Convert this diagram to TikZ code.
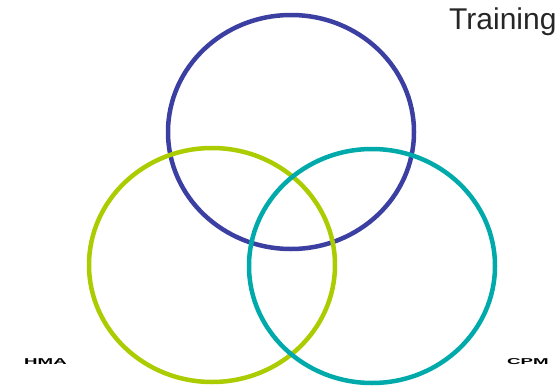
\documentclass[tikz,border=0pt]{standalone}
\usepackage{fontspec}
\setmainfont{Liberation Sans}
\usepackage{xcolor}
\usepackage{tikz}
\definecolor{setblue}{HTML}{3C3FA2}
\definecolor{setgreen}{HTML}{AACC00}
\definecolor{setteal}{HTML}{00AAAA}

\begin{document}
\begin{tikzpicture}[
  x=1pt, y=-1pt,
  ring/.style={line width=4.5pt},
  lbl/.style={font=\bfseries\fontsize{8.5}{10}\selectfont, inner sep=0pt, anchor=base west},
]
\useasboundingbox (0,0) rectangle (560,391);
\draw[ring, setblue] (291,132) ellipse (123 and 117);
\draw[ring, setgreen] (212,265) ellipse (123 and 117);
\draw[ring, setteal] (372,266) ellipse (123 and 117);
\node[font=\fontsize{30}{35}\selectfont, anchor=base west, inner sep=0pt, text=black!85] (training) at (449,29) {Training};
\node[lbl] (hma) at (24,364) {\scalebox{2.2}[1]{HMA}};
\node[lbl] (cpm) at (507,364) {\scalebox{2.2}[1]{CPM}};
\end{tikzpicture}
\end{document}
